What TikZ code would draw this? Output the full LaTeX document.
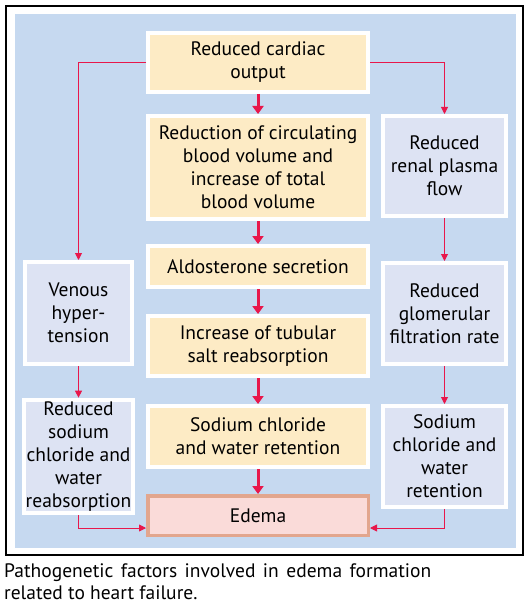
\documentclass[tikz,border=0pt]{standalone}
\usepackage{fontspec}
\setmainfont{PT Sans}
\usetikzlibrary{arrows.meta}

\definecolor{panelblue}{RGB}{198,217,240}
\definecolor{creamfill}{RGB}{253,235,197}
\definecolor{sidefill}{RGB}{221,227,243}
\definecolor{arrowred}{RGB}{232,23,75}
\definecolor{edemafill}{RGB}{250,219,217}
\definecolor{edemadraw}{RGB}{226,166,142}

\begin{document}
\begin{tikzpicture}[x=1pt,y=-1pt,line join=miter,
    box/.style={draw=white,line width=4pt,align=center,inner sep=2pt,
      font=\fontsize{19.5}{23}\selectfont},
    mainbox/.style={box,fill=creamfill,minimum width=220pt},
    sidebox/.style={box,fill=sidefill},
    bigarrow/.style={draw=arrowred,line width=3pt,
      -{Triangle[width=11pt,length=8pt]}},
    smallarrow/.style={draw=arrowred,line width=.9pt,
      -{Triangle[width=7pt,length=7pt]}}]
    \useasboundingbox (0,0) rectangle (530,604);
    % Frame and panel.
    \draw[line width=1.6pt] (6,6) rectangle (523,555);
    \fill[panelblue] (15,14) rectangle (516,548);

    % Middle column.
    \node[mainbox,minimum height=59pt] (cardiac) at (258,62.5)
      {Reduced cardiac\\output};
    \node[mainbox,minimum height=103pt] (volume) at (258,167.5)
      {Reduction of circulating\\blood volume and\\increase of total\\blood volume};
    \node[mainbox,minimum height=41pt] (aldo) at (258,266.5)
      {Aldosterone secretion};
    \node[mainbox,minimum height=60pt] (tubular) at (258,346)
      {Increase of tubular\\salt reabsorption};
    \node[mainbox,minimum height=61pt] (retain) at (258,436.5)
      {Sodium chloride\\and water retention};
    \node[box,draw=edemadraw,line width=3.5pt,fill=edemafill,
      minimum width=220.5pt,minimum height=39.5pt] (edema) at (258,515.5)
      {Edema};

    % Left column.
    \node[sidebox,minimum width=107pt,minimum height=102pt] (venous)
      at (78.5,313) {Venous\\hyper-\\tension};
    \node[sidebox,minimum width=107pt,minimum height=101pt] (reabs)
      at (78.5,456.5) {Reduced\\sodium\\chloride and\\water\\reabsorption};

    % Right column.
    \node[sidebox,minimum width=123pt,minimum height=100pt] (renal)
      at (444.5,166) {Reduced\\renal plasma\\flow};
    \node[sidebox,minimum width=123pt,minimum height=101pt] (gfr)
      at (444.5,313.5) {Reduced\\glomerular\\filtration rate};
    \node[sidebox,minimum width=123pt,minimum height=101pt] (sideret)
      at (444.5,456.5) {Sodium\\chloride and\\water\\retention};

    % Arrows.
    \draw[bigarrow] (cardiac) -- (volume);
    \draw[bigarrow] (volume) -- (aldo);
    \draw[bigarrow] (aldo) -- (tubular);
    \draw[bigarrow] (tubular) -- (retain);
    \draw[bigarrow] (retain) -- (edema);
    \draw[smallarrow] (cardiac.west) -| (venous.north);
    \draw[smallarrow] (cardiac.east) -| (renal.north);
    \draw[smallarrow] (venous) -- (reabs);
    \draw[smallarrow] (renal) -- (gfr);
    \draw[smallarrow] (gfr) -- (sideret);
    \draw[smallarrow] (reabs.south) |- ([yshift=-12.5pt]edema.west);
    \draw[smallarrow] (sideret.south) |- ([yshift=-12.5pt]edema.east);

    % Caption (base of a two-line node is its last line).
    \node[anchor=base west,inner sep=0pt,font=\fontsize{19.5}{22}\selectfont,
      align=left] (caption) at (4,599)
      {\makebox[427pt][s]{Pathogenetic factors involved in edema formation}\\
       related to heart failure.};
\end{tikzpicture}
\end{document}
